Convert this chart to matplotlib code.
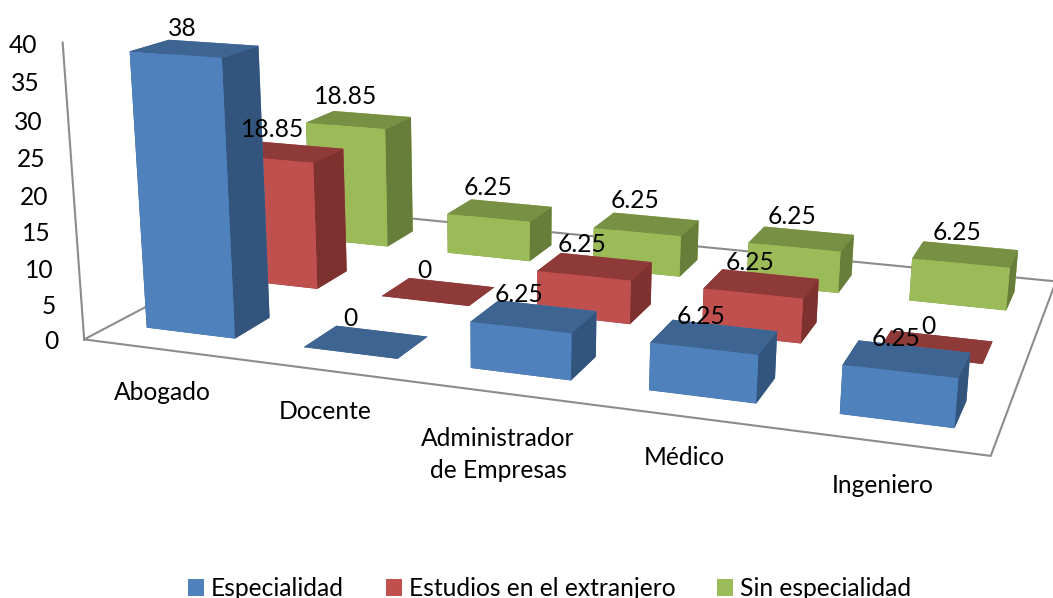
import numpy as np
import matplotlib
matplotlib.use("Agg")
import matplotlib.pyplot as plt
from matplotlib.patches import Patch

categories = ["Abogado", "Docente", "Administrador\nde Empresas", "Médico", "Ingeniero"]
series_names = ["Especialidad", "Estudios en el extranjero", "Sin especialidad"]
especialidad = [38, 0, 6.25, 6.25, 6.25]
extranjero = [18.85, 0, 6.25, 6.25, 0]
sin_especialidad = [18.85, 6.25, 6.25, 6.25, 6.25]
value_ticks = [0, 5, 10, 15, 20, 25, 30, 35, 40]

W, H = 1053, 598
FONT = "Lato"
FS = 17.7
TEXT = "#000000"

# camera calibrated to the picture: (category, series, value) -> pixels
CAM = np.array([[150.56752, 110.06445, -0.613, 84.17071],
                [9.14983, -24.71929, -7.47279, 339.4184],
                [-0.03103, 0.08683, -0.0012, 1.0]])
M = np.vstack([CAM[0], CAM[1], CAM[2] - [0, 0, 0, 0.5], CAM[2]])

GAP_X, GAP_Y = 0.215, 0.30
faces = [  # front, top, side
    ("#4F81BD", "#3E6492", "#33547D"),
    ("#C0504D", "#8E3A38", "#7E3230"),
    ("#9BBB59", "#779044", "#677D3A"),
]
edge = "#8C8C8C"


def project(x, y, z):
    u, v, w = CAM @ np.array([x, y, z, 1.0])
    return u / w, v / w


fig = plt.figure(figsize=(W / 100, H / 100), dpi=100)
ax = fig.add_axes([0, 0, 1, 1], projection="3d", computed_zorder=False, proj_type="ortho")
ax.set_axis_off()
ax.get_proj = lambda: M
ax.apply_aspect = lambda position=None: None
ax.viewLim.intervalx = (0, W)
ax.viewLim.intervaly = (H, 0)

n_cat, n_ser, v_max = len(categories), len(series_names), value_ticks[-1]

# frame
ax.plot([0, 0], [0, 0], [0, v_max], color=edge, lw=1.5, zorder=1)
ax.plot([0, n_cat, n_cat, 0, 0], [0, 0, n_ser, n_ser, 0], [0, 0, 0, 0, 0],
        color=edge, lw=1.5, zorder=1)

# bars: back row first, left to right
order = 2
for j, vals in reversed(list(enumerate([especialidad, extranjero, sin_especialidad]))):
    fr, top, side = faces[j]
    for i, v in enumerate(vals):
        ax.bar3d(i + GAP_X, j + GAP_Y, 0, 1 - 2 * GAP_X, 1 - 2 * GAP_Y, v,
                 color=[top, top, fr, fr, side, side], shade=False,
                 edgecolor="none", linewidth=0, zorder=order)
        order += 1


def label(px, py, s, ha="center", **kw):
    ax.annotate(s, xy=(px, py + 1.5), xycoords="data", ha=ha, va="center",
                fontsize=FS, family=FONT, color=TEXT, zorder=200,
                annotation_clip=False, **kw)


# value axis labels follow the projected axis
for t in value_ticks:
    px, py = project(0, 0, t)
    label(px - 25.5, py + 1, str(t), ha="right")

# category labels
cat_pos = [(162, 391), (325, 410), (498, 453), (684, 456), (883, 484)]
for (px, py), c in zip(cat_pos, categories):
    label(px, py, c, linespacing=1.45)

# value labels
lab_pos = [
    [(182, 27), (350, 317), (519, 293), (701, 315), (896, 337)],
    [(273, 128), (424, 269), (582, 243), (750, 261), (928, 325)],
    [(346, 95), (488, 186), (635, 199), (792, 215), (957, 231)],
]
for pos, vals in zip(lab_pos, [especialidad, extranjero, sin_especialidad]):
    for (px, py), v in zip(pos, vals):
        label(px, py, f"{v:g}")

handles = [Patch(facecolor=faces[k][0], label=series_names[k]) for k in range(n_ser)]
fig.legend(handles=handles, loc="center", bbox_to_anchor=(549.5 / W, 1 - 588.5 / H), ncol=3,
           frameon=False, prop={"family": FONT, "size": FS}, handlelength=0.65,
           handleheight=0.65, handletextpad=0.28, columnspacing=1.7, borderpad=0,
           borderaxespad=0, labelcolor=TEXT)

fig.savefig("out.png", dpi=100)
